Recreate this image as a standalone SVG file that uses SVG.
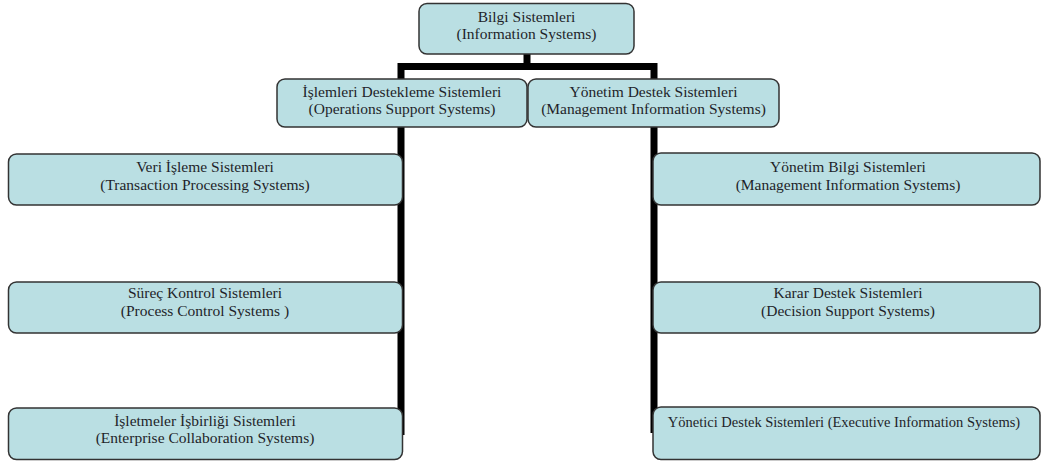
<svg xmlns="http://www.w3.org/2000/svg" width="1042" height="462" viewBox="0 0 1042 462">
  <style>
    .box { fill: #badfe3; stroke: #333; stroke-width: 1.5; }
    .t { font-family: "Liberation Serif", "Times New Roman", serif; font-size: 15.5px; fill: #1f1f2a; text-anchor: middle; }
    .conn { fill: none; stroke: #000; stroke-width: 7; stroke-linejoin: miter; }
  </style>
  <rect width="1042" height="462" fill="#fff"/>
  <g id="connectors">
    <path class="conn" d="M401,435 V66.5 H654 V433"/>
    <path class="conn" d="M527,53 V66.5"/>
  </g>
  <g id="n-bilgi">
    <rect class="box" x="419" y="3.5" width="215" height="50.5" rx="8"/>
    <text class="t" x="526.5" y="22">Bilgi Sistemleri</text>
    <text class="t" x="526.5" y="39">(Information Systems)</text>
  </g>
  <g id="n-islemleri">
    <rect class="box" x="277" y="79" width="250" height="48" rx="8"/>
    <text class="t" x="402" y="97">İşlemleri Destekleme Sistemleri</text>
    <text class="t" x="402" y="114">(Operations Support Systems)</text>
  </g>
  <g id="n-yonetim">
    <rect class="box" x="528" y="79" width="251" height="48" rx="8"/>
    <text class="t" x="653.5" y="97">Yönetim Destek Sistemleri</text>
    <text class="t" x="653.5" y="114">(Management Information Systems)</text>
  </g>
  <g id="n-veri">
    <rect class="box" x="8.5" y="154" width="394" height="51" rx="8"/>
    <text class="t" x="205" y="172">Veri İşleme Sistemleri</text>
    <text class="t" x="205" y="190">(Transaction Processing Systems)</text>
  </g>
  <g id="n-surec">
    <rect class="box" x="8.5" y="282" width="394" height="51" rx="8"/>
    <text class="t" x="205" y="298">Süreç Kontrol Sistemleri</text>
    <text class="t" x="205" y="316">(Process Control Systems )</text>
  </g>
  <g id="n-isbirligi">
    <rect class="box" x="8.5" y="408" width="394" height="51.5" rx="8"/>
    <text class="t" x="205" y="426">İşletmeler İşbirliği Sistemleri</text>
    <text class="t" x="205" y="443">(Enterprise Collaboration Systems)</text>
  </g>
  <g id="n-ybs">
    <rect class="box" x="653" y="153" width="387" height="52" rx="8"/>
    <text class="t" x="848" y="172">Yönetim Bilgi Sistemleri</text>
    <text class="t" x="848" y="190">(Management Information Systems)</text>
  </g>
  <g id="n-karar">
    <rect class="box" x="653" y="282" width="387" height="51" rx="8"/>
    <text class="t" x="848" y="298">Karar Destek Sistemleri</text>
    <text class="t" x="848" y="316">(Decision Support Systems)</text>
  </g>
  <g id="n-yonetici">
    <rect class="box" x="653" y="407" width="387" height="52.5" rx="8"/>
    <text class="t" x="844" y="427" style="font-size:14.5px">Yönetici Destek Sistemleri (Executive Information Systems)</text>
  </g>
</svg>
